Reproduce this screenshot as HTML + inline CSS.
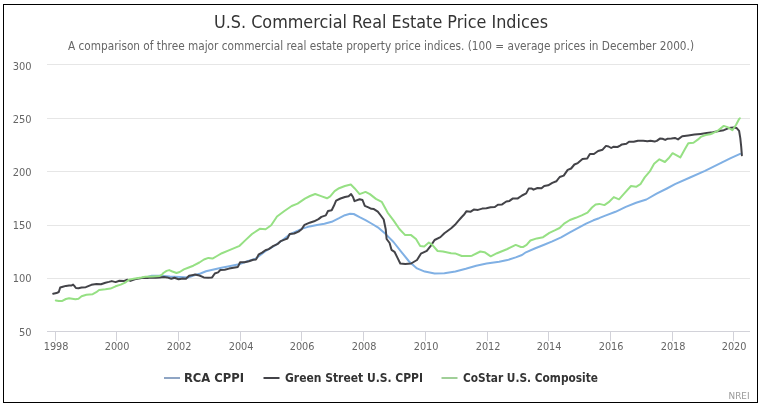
<!DOCTYPE html>
<html><head><meta charset="utf-8"><title>U.S. Commercial Real Estate Price Indices</title>
<style>html,body{margin:0;padding:0;background:#fff;width:764px;height:409px;overflow:hidden;position:relative}</style>
</head><body>
<svg width="764" height="409" viewBox="0 0 764 409" style="position:absolute;left:0;top:0;will-change:transform">
<rect x="0" y="0" width="764" height="409" fill="#ffffff"/>
<line x1="47" y1="64.5" x2="750" y2="64.5" stroke="#e6e6e6" stroke-width="1"/>
<line x1="47" y1="118.5" x2="750" y2="118.5" stroke="#e6e6e6" stroke-width="1"/>
<line x1="47" y1="171.5" x2="750" y2="171.5" stroke="#e6e6e6" stroke-width="1"/>
<line x1="47" y1="225.5" x2="750" y2="225.5" stroke="#e6e6e6" stroke-width="1"/>
<line x1="47" y1="278.5" x2="750" y2="278.5" stroke="#e6e6e6" stroke-width="1"/>
<line x1="47" y1="331.5" x2="750" y2="331.5" stroke="#d2d2d9" stroke-width="1"/>
<line x1="55.5" y1="331" x2="55.5" y2="341" stroke="#d2d2d9" stroke-width="1"/>
<line x1="116.5" y1="331" x2="116.5" y2="341" stroke="#d2d2d9" stroke-width="1"/>
<line x1="178.5" y1="331" x2="178.5" y2="341" stroke="#d2d2d9" stroke-width="1"/>
<line x1="240.5" y1="331" x2="240.5" y2="341" stroke="#d2d2d9" stroke-width="1"/>
<line x1="301.5" y1="331" x2="301.5" y2="341" stroke="#d2d2d9" stroke-width="1"/>
<line x1="363.5" y1="331" x2="363.5" y2="341" stroke="#d2d2d9" stroke-width="1"/>
<line x1="425.5" y1="331" x2="425.5" y2="341" stroke="#d2d2d9" stroke-width="1"/>
<line x1="487.5" y1="331" x2="487.5" y2="341" stroke="#d2d2d9" stroke-width="1"/>
<line x1="548.5" y1="331" x2="548.5" y2="341" stroke="#d2d2d9" stroke-width="1"/>
<line x1="610.5" y1="331" x2="610.5" y2="341" stroke="#d2d2d9" stroke-width="1"/>
<line x1="672.5" y1="331" x2="672.5" y2="341" stroke="#d2d2d9" stroke-width="1"/>
<line x1="733.5" y1="331" x2="733.5" y2="341" stroke="#d2d2d9" stroke-width="1"/>
<polyline points="145,277.6 151.8,275.8 160.4,275.8 170,276.5 180,277 188.7,277.4 195,275 200.5,273.5 206,271.3 212.6,269.7 221.4,267.8 228,266.4 239,264.2 244.5,262.3 255.5,258.7 265,251.5 275,245.5 282,240.5 289.6,234.5 302.3,228.6 309.7,226.4 317,224.9 324.4,223.8 331.7,221.8 339.1,218.2 344.9,215.2 350.1,213.8 353.7,214 359.6,217.2 365.5,220.2 371.4,223.5 377.8,227.3 385.7,234.1 393.5,242 401.3,251.8 409.1,261.5 417,268.4 424.8,271.6 434.6,273.5 444.4,273.2 455.4,271.5 465.8,268.8 476.2,265.7 486.6,263.6 499.1,261.8 507.4,260.1 515.7,257.4 522,255 525.9,252.3 534.7,248.5 543.5,245 552.3,241.3 561.1,237.3 569.9,232.4 578.7,227.6 586.1,223.6 593.4,220.3 599,218.2 605.3,215.6 615.5,211.8 625.8,206.9 636.1,202.8 646.4,199.5 656.6,193.7 666.9,188.5 675,184.2 690,177.5 705,170.9 722.1,162.4 730.7,158.1 740.1,153.8" fill="none" stroke="#80b0e4" stroke-width="2" stroke-linejoin="round" stroke-linecap="round"/>
<polyline points="53.2,293.8 56.5,293.1 58.8,292 60.2,287.5 62.8,286.8 65.9,285.9 69.1,285.4 71.7,285.4 73.1,284.6 74.3,285.9 75.9,288 78.5,288.2 81.6,287.5 85.8,287.2 91.4,284.8 96.5,284 101,284.2 105.4,282.7 108.9,281.9 111.8,281.1 115.6,282.1 119.4,280.8 124.2,280.9 127.3,279.8 130.5,280.9 134.7,279.3 138.8,278.5 143,277.7 147.2,278.1 151.4,277.4 155.6,277.7 159.8,277.4 164,277 167.1,277.4 171.3,278.8 174.5,277.7 178.6,279.3 182.8,278.5 186,278.8 189.1,275.7 193.3,274.9 195,274.6 199.4,275.5 203.8,277.4 208.2,277.7 212.1,277.4 214.8,273.5 218.1,272.4 220.3,270 224.7,269.7 229.1,268.6 233.5,267.8 237.9,266.9 240.1,262.3 244.5,262.3 248.9,261.2 253.3,259.8 256.1,259.4 258.8,254.3 262.1,252.6 265.4,250.2 268.7,249.1 272,246.9 273.5,245.8 277.9,243.8 280.8,241.1 285.2,239.4 287.4,238.5 289.6,234.1 294.1,233.5 298.5,231.6 301.6,229.3 304.5,224.9 309.7,222.7 314.1,221.3 318.5,219.1 321.4,216.9 325.8,215.4 328,211 331.7,210.2 333.9,205.8 336.1,200.7 340.5,198.5 344.9,197 348.6,196.3 351.1,194.1 353,197 354.5,201.1 359.6,199.2 362.5,200 364.8,205.8 368.4,207.3 371.4,208.8 373.9,209.1 377.8,211.6 380.8,215.5 383.7,219.5 385.7,229.2 386.6,239 389.6,243 391.5,249.8 394.5,251.8 397.4,257.6 400.3,263.5 405.2,263.9 411.1,263.5 417,260 420.9,253.7 426.8,250.8 430.7,245.9 434.6,240 440.4,237.1 444.4,233.2 451.2,228.3 455,224.8 458.1,221.1 461.3,217.5 463.9,214.8 466.5,211.2 470.7,211.7 473.8,209.6 478,209.9 482.2,208.6 486.4,208.2 490.6,207.2 494.8,207 497.9,204.7 502.1,204.4 506.3,201.5 509.5,200.9 512.6,198.6 517.8,198.4 522,195.5 526.2,193.4 528.8,188.4 531.4,188.4 533.5,189.7 537.5,188 541.5,188.3 544.2,186 548.2,185.3 552.3,182.9 556.3,181.3 559.7,177 563.7,175.6 567.7,169.9 571.1,168.5 574.4,164.5 577.8,163.1 582.5,159.1 587.2,158.4 589.9,154 593.9,154 598.1,151 602.6,149.7 606,145.9 608.6,146.5 611.2,148 613.3,146.8 617.5,147 620.1,145.6 621.9,144.4 626.4,143.8 629,141.8 633.7,141.8 637.9,140.7 643.2,140.7 647.4,141.2 650.5,140.7 654.7,141.5 656.8,140.9 659.9,138.6 662.5,138.8 665.2,139.9 667.3,138.8 671.4,138.4 674.9,137.9 678,139.4 682.2,136.3 688.3,135.4 694.5,134.6 700.6,133.9 706.7,133.1 712.8,132.3 718.9,131 723.8,130.2 728.7,128.1 733.6,127.4 736.7,128.1 739.1,130.8 740.3,138.1 741.2,146.7 741.9,155.3" fill="none" stroke="#434348" stroke-width="2" stroke-linejoin="round" stroke-linecap="round"/>
<polyline points="55.8,300.5 58.8,301 62.3,300.9 65.9,299 69.1,298.2 72.2,298.7 75.4,299.3 78.5,298.7 81.6,296.2 86.4,294.7 92.7,294.2 96.3,292.2 99.1,290 105.4,289.3 110.5,288.6 115.6,286.3 120.7,284.6 125.7,282.3 128.9,279.7 133.6,278.7 141.4,277.5 145.3,276.8 153.2,276.4 159.5,276 162,274.6 163.4,273 166.6,270.9 169.2,270.1 172.4,271.5 176.5,273 179.7,272 183.9,269.4 188.1,267.8 193.3,265.7 199.4,262.5 204,259.5 208.4,257.9 212.5,258.6 217,256 221.9,253.2 230,249.9 239.6,245.8 246,239.6 252,234 259.8,228.8 265.6,229.2 271.2,225.3 277,216.5 284.4,211 291.7,206 297.6,203.6 304.9,198.6 310,196 315.2,194 321.1,196.1 327,198.3 330.2,196.3 334.6,191.2 339.1,188.2 344.9,186 350.8,184.5 354.5,188.2 359.6,194.1 365.5,191.9 369.9,194.1 375.9,198.9 381.7,201.8 387.6,212.6 393.5,220.4 399.4,229 405.2,235.1 411.1,235.1 416,239 420.2,246 424.2,246.5 428.9,242.6 432.3,244.8 437.6,251 443,251.4 451.1,253.2 455.1,253.4 461.8,256 469.9,255.9 472,255.7 480.3,251.5 484.5,252.2 490.7,256.3 497,253.2 507.4,249 515.7,244.9 520.9,247 522.9,247.1 526.6,244.9 530.4,240.5 536.8,238.4 543.1,237.2 549.4,232.9 555.2,230.2 559.6,228 564.1,223.6 569.9,220 575.8,217.8 581.7,215.3 587.5,212.6 592,207.5 595.6,204.5 599.3,203.9 604.4,205.1 608.7,202.2 613.8,197.1 619,199.3 624.1,193.7 631,186 636.1,186.8 640.4,184.2 644.7,177.4 649.8,171.4 654.1,163.7 659.4,159.3 664.9,162 668.6,158.3 672.6,153.2 680.3,157.4 684.7,149.5 688.3,143.2 693.5,142.7 698.1,139.4 701.3,136.6 705.7,135 710.1,134.3 712.8,133.2 717.7,130.8 723.8,125.9 727.5,127.1 732.4,130.2 736.1,124.7 739,119.2 739.8,118.3" fill="none" stroke="#96e084" stroke-width="2" stroke-linejoin="round" stroke-linecap="round"/>
<line x1="164" y1="378" x2="180" y2="378" stroke="#8fa5c4" stroke-width="2"/>
<line x1="263.5" y1="378" x2="279.5" y2="378" stroke="#434348" stroke-width="2"/>
<line x1="441.5" y1="378" x2="457.5" y2="378" stroke="#a0cf98" stroke-width="2"/>
<rect x="3.5" y="4.5" width="754" height="398" fill="none" stroke="#000" stroke-width="1"/>
<text x="214.00" y="28" textLength="333.99" lengthAdjust="spacingAndGlyphs" style="font-family:'DejaVu Sans Condensed','DejaVu Sans',sans-serif;font-size:18px;font-weight:normal;fill:#333333">U.S. Commercial Real Estate Price Indices</text>
<text x="68.00" y="50" textLength="626.00" lengthAdjust="spacingAndGlyphs" style="font-family:'DejaVu Sans Condensed','DejaVu Sans',sans-serif;font-size:12px;font-weight:normal;fill:#666666">A comparison of three major commercial real estate property price indices. (100 = average prices in December 2000.)</text>
<text x="31.6" y="70" text-anchor="end" style="font-family:'DejaVu Sans Condensed','DejaVu Sans',sans-serif;font-size:11px;fill:#666666">300</text>
<text x="31.6" y="123" text-anchor="end" style="font-family:'DejaVu Sans Condensed','DejaVu Sans',sans-serif;font-size:11px;fill:#666666">250</text>
<text x="31.6" y="176" text-anchor="end" style="font-family:'DejaVu Sans Condensed','DejaVu Sans',sans-serif;font-size:11px;fill:#666666">200</text>
<text x="31.6" y="229" text-anchor="end" style="font-family:'DejaVu Sans Condensed','DejaVu Sans',sans-serif;font-size:11px;fill:#666666">150</text>
<text x="31.6" y="282" text-anchor="end" style="font-family:'DejaVu Sans Condensed','DejaVu Sans',sans-serif;font-size:11px;fill:#666666">100</text>
<text x="31.6" y="336" text-anchor="end" style="font-family:'DejaVu Sans Condensed','DejaVu Sans',sans-serif;font-size:11px;fill:#666666">50</text>
<text x="56.1" y="350" text-anchor="middle" textLength="24.8" lengthAdjust="spacingAndGlyphs" style="font-family:'DejaVu Sans Condensed','DejaVu Sans',sans-serif;font-size:11px;fill:#666666">1998</text>
<text x="117.1" y="350" text-anchor="middle" textLength="24.8" lengthAdjust="spacingAndGlyphs" style="font-family:'DejaVu Sans Condensed','DejaVu Sans',sans-serif;font-size:11px;fill:#666666">2000</text>
<text x="179.1" y="350" text-anchor="middle" textLength="24.8" lengthAdjust="spacingAndGlyphs" style="font-family:'DejaVu Sans Condensed','DejaVu Sans',sans-serif;font-size:11px;fill:#666666">2002</text>
<text x="241.1" y="350" text-anchor="middle" textLength="24.8" lengthAdjust="spacingAndGlyphs" style="font-family:'DejaVu Sans Condensed','DejaVu Sans',sans-serif;font-size:11px;fill:#666666">2004</text>
<text x="302.1" y="350" text-anchor="middle" textLength="24.8" lengthAdjust="spacingAndGlyphs" style="font-family:'DejaVu Sans Condensed','DejaVu Sans',sans-serif;font-size:11px;fill:#666666">2006</text>
<text x="364.1" y="350" text-anchor="middle" textLength="24.8" lengthAdjust="spacingAndGlyphs" style="font-family:'DejaVu Sans Condensed','DejaVu Sans',sans-serif;font-size:11px;fill:#666666">2008</text>
<text x="426.1" y="350" text-anchor="middle" textLength="24.8" lengthAdjust="spacingAndGlyphs" style="font-family:'DejaVu Sans Condensed','DejaVu Sans',sans-serif;font-size:11px;fill:#666666">2010</text>
<text x="488.1" y="350" text-anchor="middle" textLength="24.8" lengthAdjust="spacingAndGlyphs" style="font-family:'DejaVu Sans Condensed','DejaVu Sans',sans-serif;font-size:11px;fill:#666666">2012</text>
<text x="549.1" y="350" text-anchor="middle" textLength="24.8" lengthAdjust="spacingAndGlyphs" style="font-family:'DejaVu Sans Condensed','DejaVu Sans',sans-serif;font-size:11px;fill:#666666">2014</text>
<text x="611.1" y="350" text-anchor="middle" textLength="24.8" lengthAdjust="spacingAndGlyphs" style="font-family:'DejaVu Sans Condensed','DejaVu Sans',sans-serif;font-size:11px;fill:#666666">2016</text>
<text x="673.1" y="350" text-anchor="middle" textLength="24.8" lengthAdjust="spacingAndGlyphs" style="font-family:'DejaVu Sans Condensed','DejaVu Sans',sans-serif;font-size:11px;fill:#666666">2018</text>
<text x="734.1" y="350" text-anchor="middle" textLength="24.8" lengthAdjust="spacingAndGlyphs" style="font-family:'DejaVu Sans Condensed','DejaVu Sans',sans-serif;font-size:11px;fill:#666666">2020</text>
<text x="183.96" y="382" textLength="60.11" lengthAdjust="spacingAndGlyphs" style="font-family:'DejaVu Sans Condensed','DejaVu Sans',sans-serif;font-size:12px;font-weight:bold;fill:#333333">RCA CPPI</text>
<text x="285.00" y="382" textLength="138.01" lengthAdjust="spacingAndGlyphs" style="font-family:'DejaVu Sans Condensed','DejaVu Sans',sans-serif;font-size:12px;font-weight:bold;fill:#333333">Green Street U.S. CPPI</text>
<text x="463.00" y="382" textLength="134.99" lengthAdjust="spacingAndGlyphs" style="font-family:'DejaVu Sans Condensed','DejaVu Sans',sans-serif;font-size:12px;font-weight:bold;fill:#333333">CoStar U.S. Composite</text>
<text x="728.50" y="399" textLength="21.00" lengthAdjust="spacingAndGlyphs" style="font-family:'DejaVu Sans Condensed','DejaVu Sans',sans-serif;font-size:9px;font-weight:normal;fill:#999999">NREI</text>
</svg>
</body></html>
